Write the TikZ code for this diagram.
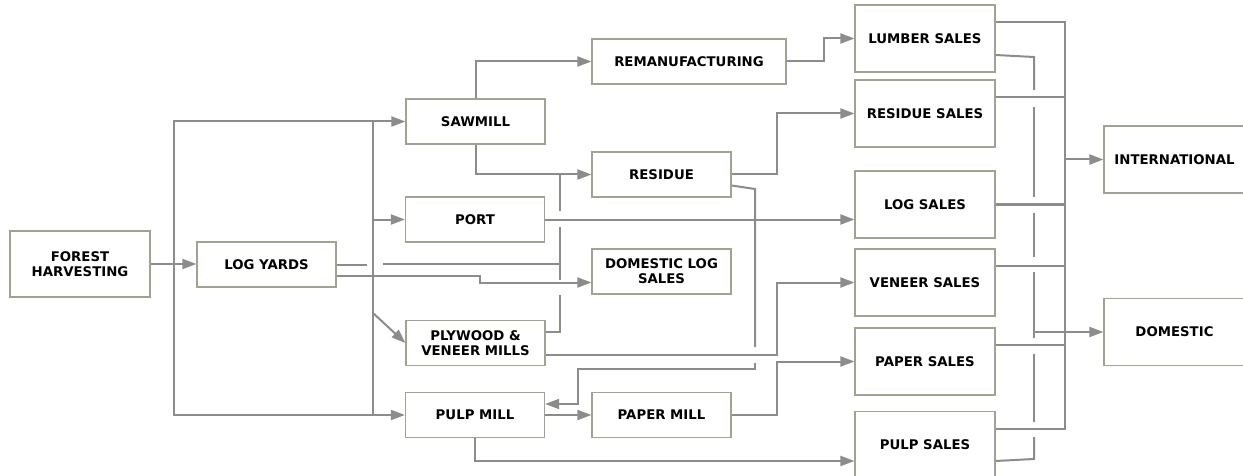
\documentclass[tikz,border=0pt]{standalone}
\usepackage{fontspec}
\setmainfont{DejaVu Sans}
\usetikzlibrary{arrows.meta}

\definecolor{lingray}{RGB}{140,140,140}
\definecolor{boxgray}{RGB}{158,164,146}

\tikzstyle{blk} = [rectangle, minimum width=139pt, minimum height=45pt, text centered, align=center, draw=boxgray, line width=1.2pt, fill=white, inner sep=2pt, font=\bfseries\fontsize{13.3}{15}\selectfont]
\tikzstyle{sal} = [blk, minimum width=140pt, minimum height=67pt]
\tikzstyle{conn} = [draw=lingray, line width=2pt]
\tikzstyle{arrow} = [conn, -{Triangle[length=14pt,width=10pt]}]

\begin{document}
\begin{tikzpicture}[x=1pt, y=-1pt]
\useasboundingbox (0,0) rectangle (1243,476);

%% Harvest and yards
\node (for_har) [blk, minimum width=140pt, minimum height=66pt] at (80,264) {FOREST\\HARVESTING};
\node (log_yrd) [blk] at (266.5,264.5) {LOG YARDS};

%% Mills
\node (saw_mil) [blk] at (475.5,121.5) {SAWMILL};
\node (por_log) [blk] at (475,219.5) {PORT};
\node (ply_mil) [blk] at (475.5,343) {PLYWOOD \&\\VENEER MILLS};
\node (pul_mil) [blk] at (475,415) {PULP MILL};

%% Secondary processing
\node (rem_fac) [blk, minimum width=194pt] at (689,61.5) {REMANUFACTURING};
\node (res_due) [blk] at (661.5,174.5) {RESIDUE};
\node (dom_log) [blk] at (661.5,271.5) {DOMESTIC LOG\\SALES};
\node (pap_mil) [blk] at (661.5,415) {PAPER MILL};

%% Sales
\node (lum_sal) [sal] at (925,38.5) {LUMBER SALES};
\node (res_sal) [sal] at (925,113.5) {RESIDUE SALES};
\node (log_sal) [sal] at (925,204.5) {LOG SALES};
\node (ven_sal) [sal] at (925,282.5) {VENEER SALES};
\node (pap_sal) [sal] at (925,361.5) {PAPER SALES};
\node (pul_sal) [sal] at (925,445) {PULP SALES};

%% Markets
\node (int_mkt) [sal, minimum width=141pt] at (1174.5,159.5) {INTERNATIONAL};
\node (dom_mkt) [sal, minimum width=141pt] at (1174.5,332) {DOMESTIC};

%% Trunks
\coordinate (trk_lft) at (174,264);
\coordinate (trk_mid) at (373,264);
\coordinate (res_col) at (560,0);
\coordinate (sal_bus) at (777,0);
\coordinate (lum_bus) at (824,0);
\coordinate (int_trk) at (1065,159.5);
\coordinate (dom_trk) at (1034,332);

%% Arrows
\draw [arrow] (for_har.east) -- (for_har.east -| log_yrd.west);
\draw [arrow] (trk_lft) |- (saw_mil.west);
\draw [arrow] (trk_lft) |- (pul_mil.west);
\draw [conn] (saw_mil.west -| trk_mid) -- (pul_mil.west -| trk_mid);
\draw [arrow] (trk_mid |- por_log.west) -- (por_log.west);
\draw [arrow] ([yshift=-49pt]trk_mid) -- (ply_mil.west);

\draw [conn] (log_yrd.east) -- ++(30,0);
\draw [conn] ([xshift=10pt]trk_mid) -- (trk_mid -| res_col);
\draw [arrow] ([yshift=-11pt]log_yrd.east) -- (480,275.5) |- ([yshift=-11pt]dom_log.west);

\draw [arrow] (saw_mil.north) |- (rem_fac.west);
\draw [arrow] (saw_mil.south) |- (res_due.west);
\draw [conn] ([yshift=11pt]ply_mil.east) -| (560,295);
\draw [conn] (560,280) -- (560,227);
\draw [conn] (560,211) -- (res_due.west -| res_col);

\draw [arrow] (por_log.east) -- (por_log.east -| log_sal.west);

\draw [arrow] (rem_fac.east) -| (lum_bus |- lum_sal.west) -- (lum_sal.west);
\draw [arrow] (res_due.east) -| (sal_bus |- res_sal.west) -- (res_sal.west);
\draw [conn] ([yshift=-11pt]res_due.east) -- (755,189) -- (755,347);
\draw [arrow] (755,363) -- (755,369) -| (578,404) -- ([yshift=11pt]pul_mil.east);

\draw [arrow] ([yshift=-12pt]ply_mil.east) -| (sal_bus |- ven_sal.west) -- (ven_sal.west);
\draw [arrow] (pul_mil.east) -- (pap_mil.west);
\draw [arrow] (pap_mil.east) -| (sal_bus |- pap_sal.west) -- (pap_sal.west);
\draw [arrow] (pul_mil.south) |- ([yshift=-16pt]pul_sal.west);

%% To markets
\foreach \src in {lum_sal, res_sal, ven_sal, pap_sal, pul_sal}
  \draw [conn] ([yshift=16.5pt]\src.east) -| (int_trk);
\draw [conn] (log_sal.east) -| (int_trk);
\draw [arrow] (int_trk) -- (int_mkt.west);

\draw [conn] ([yshift=-16.5pt]lum_sal.east) -- (1034,57) -- (1034,90);
\foreach \ya/\yb in {107/197, 213/257, 272/338, 354/422}
  \draw [conn] (1034,\ya) -- (1034,\yb);
\draw [conn] (1034,437) -- (1034,459) -- ([yshift=-16pt]pul_sal.east);
\draw [arrow] (dom_trk) -- (dom_mkt.west);
\end{tikzpicture}
\end{document}
